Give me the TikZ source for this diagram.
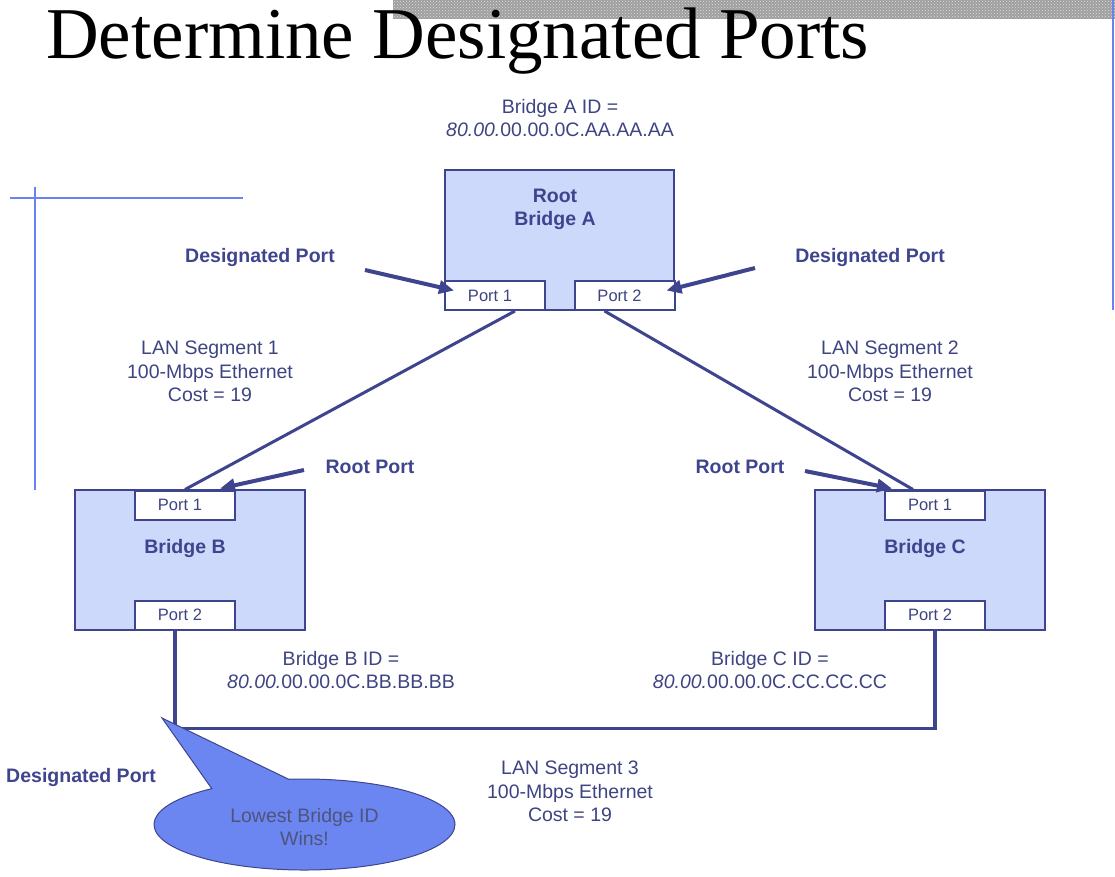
\documentclass[tikz,border=0pt]{standalone}
\usepackage{fontspec}
\setmainfont{Liberation Sans}
\newfontfamily\titlefont{Liberation Serif}
\usetikzlibrary{arrows.meta,shapes.callouts,shapes.geometric,patterns}
\definecolor{navy}{RGB}{62,68,142}
\definecolor{boxfill}{RGB}{204,217,250}
\definecolor{lightline}{RGB}{106,130,240}
\definecolor{bubble}{RGB}{107,134,240}
\definecolor{bubbletext}{RGB}{78,84,125}
\definecolor{txt}{RGB}{62,68,130}
\begin{document}
\begin{tikzpicture}[x=1pt,y=-1pt,
  bridgebox/.style={draw=navy,line width=2pt,fill=boxfill,inner sep=0pt},
  portbox/.style={draw=navy,line width=2pt,fill=white,minimum width=100pt,minimum height=29pt,inner sep=0pt},
  porttext/.style={font=\fontsize{16.5}{18}\selectfont,text=txt,inner sep=0pt},
  boldlbl/.style={font=\bfseries\fontsize{19.5}{23}\selectfont,text=navy,align=center,inner sep=0pt},
  plainlbl/.style={font=\fontsize{19.5}{23.5}\selectfont,text=txt,align=center,inner sep=0pt},
  link/.style={draw=navy,line width=3pt},
  pointer/.style={draw=navy,line width=4pt,-{Triangle[length=15pt,width=13pt]}},
  thinblue/.style={draw=lightline,line width=1.4pt}
]
\useasboundingbox (0,0) rectangle (1115,876);

% header band and title
\path[fill=gray!75] (393,0) rectangle (1115,18.5);
\path[pattern=crosshatch dots,pattern color=white!75!gray] (393,0) rectangle (1115,18.5);
\node[anchor=base west,inner sep=0pt,font=\titlefont\fontsize{73}{80}\selectfont] (title) at (46,58) {Determine Designated Ports};

% decorative blue lines
\draw[thinblue] (10,198) -- (243,198);
\draw[thinblue] (35,187) -- (35,490);
\draw[thinblue] (1113,0) -- (1113,310);

% bridges
\node[bridgebox,minimum width=229pt,minimum height=140pt] (A) at (559.5,240) {};
\node[bridgebox,minimum width=230pt,minimum height=140pt] (B) at (190,560) {};
\node[bridgebox,minimum width=230pt,minimum height=140pt] (C) at (930,560) {};

\node[boldlbl] (Atext) at (555,209) {Root\\Bridge A};
\node[boldlbl] (Btext) at (185,548) {Bridge B};
\node[boldlbl] (Ctext) at (925,548) {Bridge C};

% ports
\node[portbox] (pA1) at (495,295.5) {};
\node[portbox] (pA2) at (624.5,295.5) {};
\node[portbox] (pB1) at (185,505) {};
\node[portbox] (pB2) at (185,615) {};
\node[portbox] (pC1) at (935,505) {};
\node[portbox] (pC2) at (935,615) {};
\node[porttext] (tA1) at ([xshift=-5pt]pA1.center) {Port 1};
\node[porttext] (tA2) at ([xshift=-5pt]pA2.center) {Port 2};
\node[porttext] (tB1) at ([xshift=-5pt]pB1.center) {Port 1};
\node[porttext] (tB2) at ([xshift=-5pt]pB2.center) {Port 2};
\node[porttext] (tC1) at ([xshift=-5pt]pC1.center) {Port 1};
\node[porttext] (tC2) at ([xshift=-5pt]pC2.center) {Port 2};

% LAN links
\draw[link] ([xshift=20pt]pA1.south) -- (pB1.north);
\draw[link] ([xshift=-20pt]pA2.south) -- ([xshift=-22pt]pC1.north);
\draw[link,line width=3.5pt] ([xshift=-10pt]pB2.south) -- ++(0,98) -| (pC2.south);

% texts
\node[plainlbl] (Aid) at (560,118) {Bridge A ID =\\\textit{80.00.}00.00.0C.AA.AA.AA};
\node[plainlbl] (Bid) at (341,670) {Bridge B ID =\\\textit{80.00.}00.00.0C.BB.BB.BB};
\node[plainlbl] (Cid) at (770,670) {Bridge C ID =\\\textit{80.00.}00.00.0C.CC.CC.CC};
\node[plainlbl] (lan1) at (210,371.5) {LAN Segment 1\\100-Mbps Ethernet\\Cost = 19};
\node[plainlbl] (lan2) at (890,371.5) {LAN Segment 2\\100-Mbps Ethernet\\Cost = 19};
\node[plainlbl] (lan3) at (570,791.5) {LAN Segment 3\\100-Mbps Ethernet\\Cost = 19};

% labels with arrows
\node[boldlbl] (dpL) at (260,257) {Designated Port};
\node[boldlbl] (dpR) at (870,257) {Designated Port};
\node[boldlbl] (rpL) at (370,467) {Root Port};
\node[boldlbl] (rpR) at (740,467) {Root Port};
\node[boldlbl] (dpB) at (81,777) {Designated Port};

\coordinate (sdpL) at (365,270);
\coordinate (sdpR) at (755,268);
\coordinate (srpL) at (304,470);
\coordinate (srpR) at (805,471);
\draw[pointer] (sdpL) -- ([shift={(10pt,5pt)}]pA1.west);
\draw[pointer] (sdpR) -- ([shift={(-9pt,5pt)}]pA2.east);
\draw[pointer] (srpL) -- ([shift={(-16pt,1pt)}]pB1.north east);
\draw[pointer] (srpR) -- ([shift={(8pt,1pt)}]pC1.north west);

% callout
\coordinate (tip) at (162,718);
\node[ellipse callout,callout absolute pointer=(tip),callout pointer arc=32,
      draw=navy,line width=1pt,fill=bubble,minimum width=301pt,minimum height=91pt,
      inner sep=0pt,align=center,text=bubbletext,font=\fontsize{19.5}{23}\selectfont] (bubble) at (304.5,824.5) {\vphantom{Ay}\\[-17pt]Lowest Bridge ID\\Wins!};
\end{tikzpicture}
\end{document}
